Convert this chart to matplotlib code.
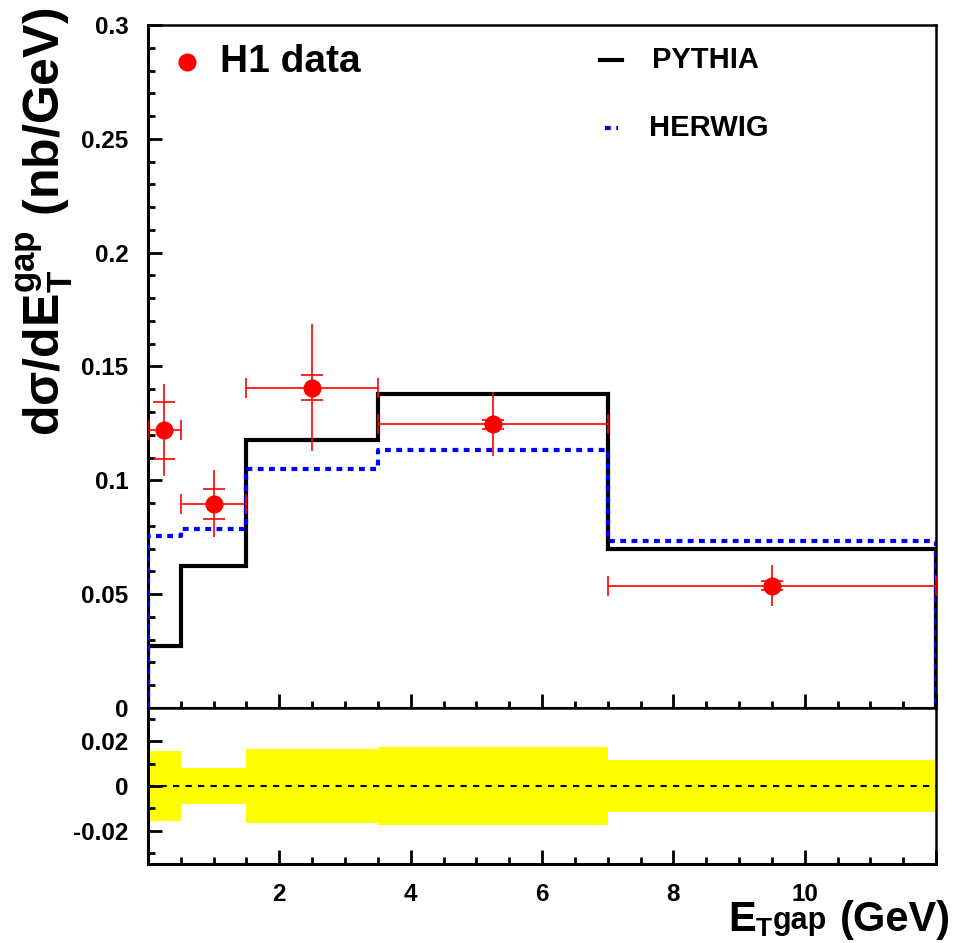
import numpy as np
import matplotlib
matplotlib.use("Agg")
import matplotlib.pyplot as plt
from matplotlib.ticker import MultipleLocator, FuncFormatter

plt.rcParams['font.family'] = ['Liberation Sans', 'DejaVu Sans']
plt.rcParams['font.weight'] = 'bold'
plt.rcParams['mathtext.fontset'] = 'custom'
plt.rcParams['mathtext.rm'] = 'Liberation Sans:bold'
plt.rcParams['mathtext.it'] = 'Liberation Sans:bold'
plt.rcParams['mathtext.bf'] = 'Liberation Sans:bold'

# bin edges in E_T^gap (GeV)
edges = [0, 0.5, 1.5, 3.5, 7, 12]
pythia = [0.0272, 0.0624, 0.1177, 0.1379, 0.0698]
herwig = [0.0755, 0.0786, 0.1050, 0.1133, 0.0733]

# H1 data
x_data = [0.25, 1.0, 2.5, 5.25, 9.5]
y_data = [0.1220, 0.0897, 0.1407, 0.1247, 0.0537]
err_tot = [0.0202, 0.0148, 0.0280, 0.0142, 0.0091]
err_stat = [0.0125, 0.0065, 0.0055, 0.0020, 0.0020]

# correlated uncertainty band (lower panel)
band = [0.0156, 0.0080, 0.0167, 0.0177, 0.0118]

W, H = 971, 943
fig = plt.figure(figsize=(W / 100, H / 100), dpi=100)
ax = fig.add_axes([0.1524, 0.2492, 0.8116, 0.7243])
ax2 = fig.add_axes([0.1524, 0.0838, 0.8116, 0.1654])

edges = np.array(edges)
xerr = [np.array(x_data) - edges[:-1], edges[1:] - np.array(x_data)]

def step_closed(vals):
    xs = np.repeat(edges, 2)
    ys = np.concatenate([[0], np.repeat(vals, 2), [0]])
    return xs, ys

xs, ys = step_closed(pythia)
ax.plot(xs, ys, color='black', lw=3.0, solid_joinstyle='miter', zorder=3)
xs, ys = step_closed(herwig)
ax.plot(xs, ys, color='#0000ff', lw=3.0, linestyle=(0, (1.4, 1.3)),
        dash_capstyle='butt', zorder=4)

red = '#ff0000'
ax.errorbar(x_data, y_data, xerr=xerr, fmt='none', ecolor=red, elinewidth=1.2,
            capsize=7.5, capthick=1.2, zorder=5)
ax.errorbar(x_data, y_data, yerr=err_tot, fmt='none', ecolor=red, elinewidth=1.2,
            capsize=0, zorder=5)
ax.errorbar(x_data, y_data, yerr=err_stat, fmt='none', ecolor=red, elinewidth=0,
            capsize=8, capthick=1.2, zorder=5)
ax.plot(x_data, y_data, 'o', color=red, ms=12, mec=red, zorder=6)

fmt = FuncFormatter(lambda v, p: '0' if abs(v) < 1e-9 else ('%g' % round(v, 3)))

ax.set_xlim(0, 12)
ax.set_ylim(0, 0.3)
ax.yaxis.set_major_locator(MultipleLocator(0.05))
ax.yaxis.set_minor_locator(MultipleLocator(0.01))
ax.xaxis.set_major_locator(MultipleLocator(2))
ax.xaxis.set_minor_locator(MultipleLocator(0.5))
ax.yaxis.set_major_formatter(fmt)
ax.tick_params(axis='x', labelbottom=False)

for a in (ax, ax2):
    a.tick_params(which='both', direction='in', width=2, top=False, right=False,
                  labelsize=17.5, pad=14)
    a.tick_params(which='major', length=10)
    a.tick_params(which='minor', length=5)
    for s in a.spines.values():
        s.set_linewidth(2.2)
    for s in ('top', 'right'):
        a.spines[s].set_linewidth(1.8)

# lower panel
ax2.fill_between(edges, np.append(band, band[-1]), -np.append(band, band[-1]),
                 step='post', color='#ffff00', lw=0, zorder=1)
ax2.axhline(0, color='black', lw=1.5, linestyle=(0, (3, 3)), zorder=2)
ax2.set_xlim(0, 12)
ax2.set_ylim(-0.035, 0.035)
ax2.yaxis.set_major_locator(MultipleLocator(0.02))
ax2.yaxis.set_minor_locator(MultipleLocator(0.01))
ax2.xaxis.set_major_locator(MultipleLocator(2))
ax2.xaxis.set_minor_locator(MultipleLocator(0.5))
ax2.yaxis.set_major_formatter(fmt)
ax2.xaxis.set_major_formatter(FuncFormatter(
    lambda v, p: '' if v < 1 or v > 11 else '%d' % v))
ax2.tick_params(axis='x', pad=14)

# y axis title
fig.text(0.046, 0.992, r'd$\mathregular{\sigma}$/dE$_{\mathregular{T}}^{\mathregular{gap}}$ (nb/GeV)',
         rotation=90, ha='center', va='top', fontsize=36, fontweight='bold')

# x axis title, built from pieces: E, subscript T, superscript gap, (GeV)
tE = fig.text(728 / W, 1 - 931 / H, 'E', ha='left', va='baseline',
              fontsize=30, fontweight='bold')
tT = ax2.annotate('T', xy=(1, H - 936), xycoords=(tE, 'figure pixels'),
                  ha='left', va='baseline', fontsize=19, fontweight='bold',
                  annotation_clip=False)
tg = ax2.annotate('gap', xy=(1.05, H - 929), xycoords=(tT, 'figure pixels'),
                  ha='left', va='baseline', fontsize=22, fontweight='bold',
                  annotation_clip=False)
fig.text(951 / W, 1 - 931 / H, '(GeV)', ha='right', va='baseline',
         fontsize=30, fontweight='bold')

# legend
tr = ax.transAxes
ax.plot([0.0495], [0.9458], 'o', color=red, ms=12, transform=tr, clip_on=False)
ax.text(0.092, 0.9458, 'H1 data', transform=tr, fontsize=28, fontweight='bold',
        va='center', ha='left')
ax.plot([0.5736, 0.6015], [0.949, 0.949], color='black', lw=3, transform=tr)
ax.text(0.640, 0.949, 'PYTHIA', transform=tr, fontsize=21, fontweight='bold',
        va='center', ha='left')
ax.plot([0.580, 0.597], [0.849, 0.849], color='#0000ff', lw=3,
        linestyle=(0, (1.4, 1.3)), dash_capstyle='butt', transform=tr)
ax.text(0.636, 0.849, 'HERWIG', transform=tr, fontsize=21, fontweight='bold',
        va='center', ha='left')

fig.savefig('out.png', dpi=100)
